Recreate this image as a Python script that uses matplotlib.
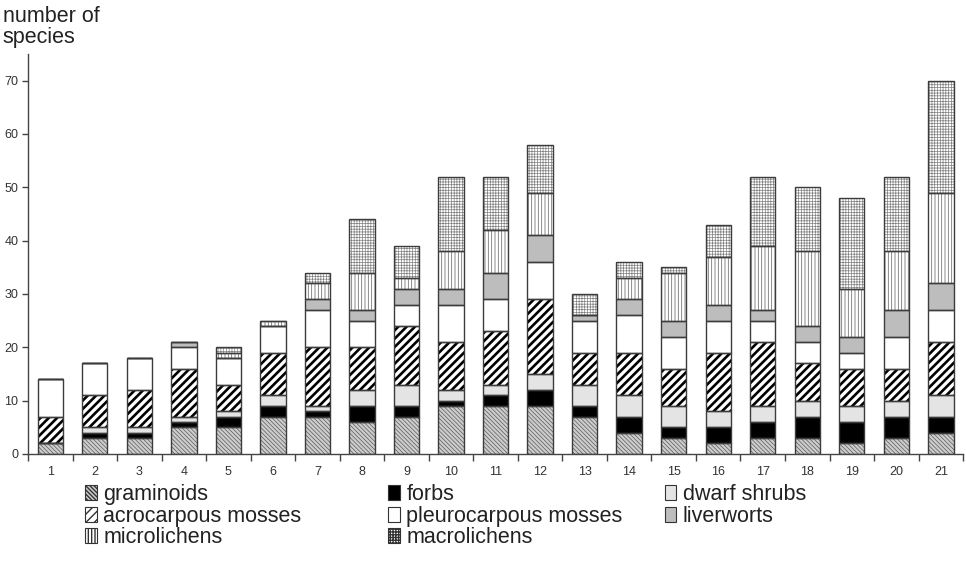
import matplotlib
matplotlib.use("Agg")
import matplotlib.pyplot as plt
from matplotlib.patches import Patch
import numpy as np

plt.rcParams['font.family'] = ['Liberation Sans', 'DejaVu Sans']

sites = [str(i) for i in range(1, 22)]

graminoids   = [2, 3, 3, 5, 5, 7, 7, 6, 7, 9, 9, 9, 7, 4, 3, 2, 3, 3, 2, 3, 4]
forbs        = [0, 1, 1, 1, 2, 2, 1, 3, 2, 1, 2, 3, 2, 3, 2, 3, 3, 4, 4, 4, 3]
dwarf_shrubs = [0, 1, 1, 1, 1, 2, 1, 3, 4, 2, 2, 3, 4, 4, 4, 3, 3, 3, 3, 3, 4]
acro_mosses  = [5, 6, 7, 9, 5, 8, 11, 8, 11, 9, 10, 14, 6, 8, 7, 11, 12, 7, 7, 6, 10]
pleuro_mosses = [7, 6, 6, 4, 5, 5, 7, 5, 4, 7, 6, 7, 6, 7, 6, 6, 4, 4, 3, 6, 6]
liverworts   = [0, 0, 0, 1, 0, 0, 2, 2, 3, 3, 5, 5, 1, 3, 3, 3, 2, 3, 3, 5, 5]
microlichens = [0, 0, 0, 0, 1, 1, 3, 7, 2, 7, 8, 8, 0, 4, 9, 9, 12, 14, 9, 11, 17]
macrolichens = [0, 0, 0, 0, 1, 0, 2, 10, 6, 14, 10, 9, 4, 3, 1, 6, 13, 12, 17, 14, 21]

groups = ['graminoids', 'forbs', 'dwarf shrubs', 'acrocarpous mosses',
          'pleurocarpous mosses', 'liverworts', 'microlichens', 'macrolichens']
values = [graminoids, forbs, dwarf_shrubs, acro_mosses,
          pleuro_mosses, liverworts, microlichens, macrolichens]

# fill colour, hatch, hatch colour, hatch line width
styles = {
    'graminoids':           ('#cdcdcd', '\\' * 8, '#5a5a5a', 0.5),
    'forbs':                ('#000000', None, '#000000', 0.5),
    'dwarf shrubs':         ('#e4e4e4', None, '#e4e4e4', 0.5),
    'acrocarpous mosses':   ('#ffffff', '////', '#000000', 1.9),
    'pleurocarpous mosses': ('#ffffff', None, '#ffffff', 0.5),
    'liverworts':           ('#bdbdbd', None, '#bdbdbd', 0.5),
    'microlichens':         ('#ffffff', '|' * 5, '#6a6a6a', 0.55),
    'macrolichens':         ('#ffffff', '+' * 6, '#808080', 0.5),
}

edge = '#3c3c3c'
x = np.arange(1, len(sites) + 1)
width = 0.57

fig = plt.figure(figsize=(9.66, 5.67), dpi=100)
ax = fig.add_axes([0.029, 0.1993, 0.968, 0.7055])

bottom = np.zeros(len(sites))
for name, vals in zip(groups, values):
    fc, hatch, hc, hlw = styles[name]
    vals = np.array(vals, dtype=float)
    with plt.rc_context({'hatch.linewidth': hlw}):
        bars = ax.bar(x, vals, width, bottom=bottom, color=fc, edgecolor=hc,
                      hatch=hatch, linewidth=0, zorder=2)
    for b in bars:
        if hasattr(b, 'set_hatch_linewidth'):
            b.set_hatch_linewidth(hlw)
    # segment outlines
    ax.bar(x, vals, width, bottom=bottom, fill=False, edgecolor=edge,
           linewidth=1.0, zorder=3)
    bottom += vals

ax.set_xlim(0.5, 21.5)
ax.set_ylim(0, 75)
ax.set_yticks(range(0, 80, 10))
ax.set_xticks(x)
ax.set_xticklabels(sites)
ax.set_xticks(np.arange(0.5, 22, 1), minor=True)
ax.tick_params(axis='x', which='major', length=0, pad=9, labelsize=9, colors='#333333')
ax.tick_params(axis='x', which='minor', length=5, width=1, color='#444444')
ax.tick_params(axis='y', length=4, width=1, color='#444444', labelsize=9,
               labelcolor='#333333', pad=3)
for s in ['top', 'right']:
    ax.spines[s].set_visible(False)
for s in ['left', 'bottom']:
    ax.spines[s].set_color('#444444')
    ax.spines[s].set_linewidth(1.0)

fig.text(0.003, 0.989, 'number of\nspecies', fontsize=15.5, va='top', ha='left',
         linespacing=1.0, color='#222222')

def handle(name):
    fc, hatch, hc, hlw = styles[name]
    return Patch(facecolor=fc, edgecolor='#333333', hatch=hatch, linewidth=0.8)

columns = [
    (0.088, ['graminoids', 'acrocarpous mosses', 'microlichens']),
    (0.4017, ['forbs', 'pleurocarpous mosses', 'macrolichens']),
    (0.688, ['dwarf shrubs', 'liverworts']),
]
for xpos, names in columns:
    with plt.rc_context({'hatch.linewidth': 0.5}):
        handles = [handle(n) for n in names]
    leg = fig.legend(handles, names, loc='upper left',
                     bbox_to_anchor=(xpos, 0.146), frameon=False, fontsize=15.5,
                     borderpad=0, borderaxespad=0, labelspacing=0.02,
                     handlelength=0.55, handleheight=0.7, handletextpad=0.3)
    for t in leg.get_texts():
        t.set_color('#222222')

fig.savefig('out.png', dpi=100, facecolor='white')
